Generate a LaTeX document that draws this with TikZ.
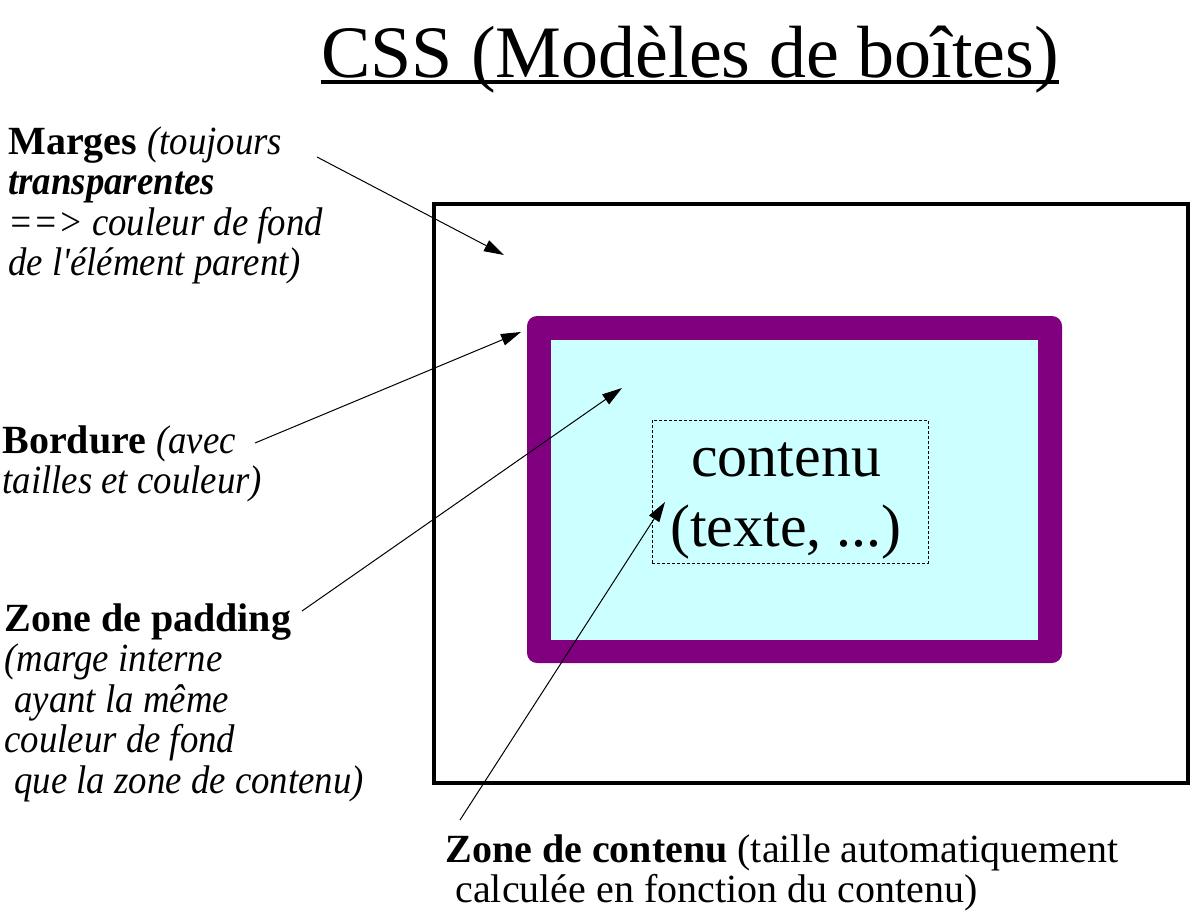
\documentclass[tikz,border=0pt]{standalone}
\usepackage{fontspec}
\setmainfont{Liberation Serif}[Ligatures=TeXOff,ItalicFont={Liberation Serif Italic},
  BoldFont={Liberation Serif Bold},BoldItalicFont={Liberation Serif Bold Italic},
  ItalicFeatures={FakeStretch=0.92},BoldItalicFeatures={FakeStretch=0.92}]
\usetikzlibrary{arrows.meta}
\definecolor{cssborder}{HTML}{800080}
\definecolor{csspadding}{HTML}{CCFFFF}
\tikzset{
  legend/.style={inner sep=0pt,anchor=north west,align=left,
    font=\fontsize{20}{20.3}\selectfont},
  pointer/.style={-{Triangle[length=10pt,width=6pt]},line width=0.5pt},
  marginbox/.style={draw,line width=2pt,minimum width=377pt,minimum height=289.5pt,inner sep=0pt},
  contentbox/.style={draw,line width=0.4pt,dash pattern=on 1.5pt off 1pt,
    minimum width=138pt,minimum height=71.5pt,inner sep=0pt},
  contenttext/.style={inner sep=0pt,align=center,font=\fontsize{30}{35}\selectfont}
}

\begin{document}
\begin{tikzpicture}[x=0.5pt,y=-0.5pt]
  \useasboundingbox (0,0) rectangle (1195,916);
  % titre
  \node[inner sep=0pt,anchor=base,font=\fontsize{37}{40}\selectfont] (title) at (690,77)
    {CSS (Modèles de boîtes)};
  \draw[line width=2pt] ([yshift=-2.5pt]title.base west) -- ([yshift=-2.5pt]title.base east);

  % les boites
  \node[marginbox] (margin) at (811,493.5) {};
  \fill[cssborder,rounded corners=5pt] (527,316) rectangle (1062,663);
  \fill[csspadding] (551,340) rectangle (1038,640);
  \node[contentbox] (content) at (790,491.5) {};
  \node[contenttext] (contentlbl) at (786,501) {contenu \\ (texte, ...)};

  % legendes
  \node[legend] (lmarges) at (8,126) {\textbf{Marges} \textit{(toujours}\\
    \textbf{\textit{transparentes}}\\
    \textit{==> couleur de fond}\\
    \textit{de l'élément parent)}};
  \node[legend] (lbordure) at (2,425) {\textbf{Bordure} \textit{(avec}\\
    \textit{tailles et couleur)}};
  \node[legend] (lpadding) at (4,603) {\textbf{Zone de padding}\\
    \textit{(marge interne}\\
    \hspace{5pt}\textit{ayant la même}\\
    \textit{couleur de fond}\\
    \hspace{5pt}\textit{que la zone de contenu)}};
  \node[legend] (lcontenu) at (445,834) {\textbf{Zone de contenu} (taille automatiquement\\
    \hspace{5pt}calculée en fonction du contenu)};

  % fleches
  \coordinate (mstart) at (317,157);
  \coordinate (mtip) at (504,255);
  \coordinate (bstart) at (255,443);
  \coordinate (btip) at (521,332);
  \coordinate (pstart) at (302,611);
  \coordinate (ptip) at (622,388);
  \coordinate (cstart) at (460,820);
  \coordinate (ctip) at (665,502);
  \draw[pointer] (mstart) -- (mtip);
  \draw[pointer] (bstart) -- (btip);
  \draw[pointer] (pstart) -- (ptip);
  \draw[pointer] (cstart) -- (ctip);
\end{tikzpicture}
\end{document}
